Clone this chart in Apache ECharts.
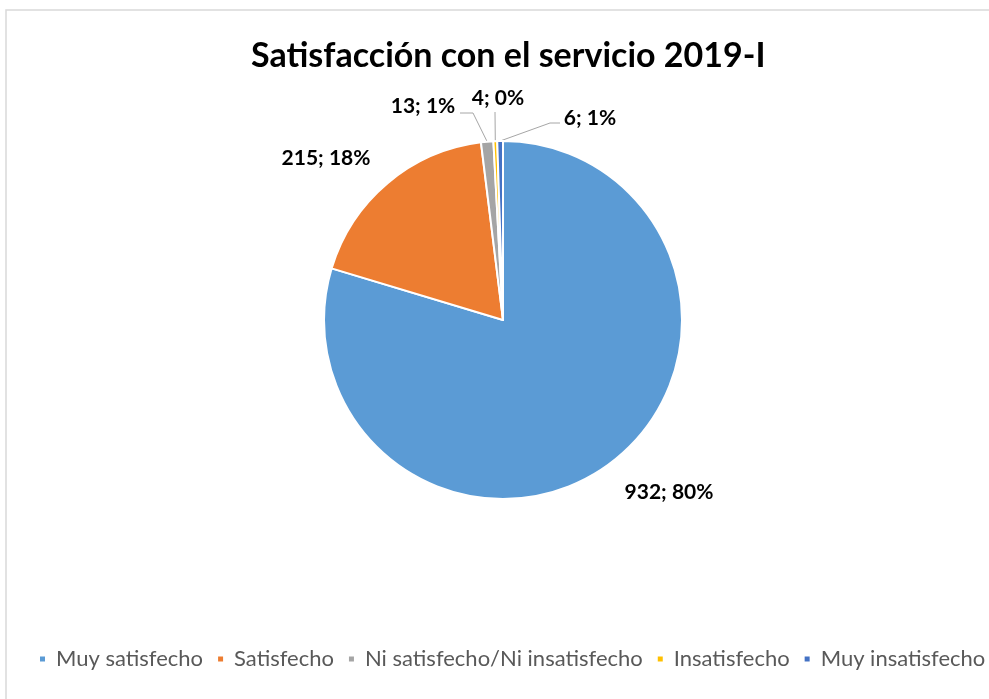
<!DOCTYPE html>
<html>
<head>
<meta charset="utf-8">
<script src="https://cdn.jsdelivr.net/npm/echarts@6/dist/echarts.min.js"></script>
<style>
  html, body { margin: 0; padding: 0; background: #fff; }
  #chart { width: 989px; height: 699px; }
</style>
</head>
<body>
<div id="chart"></div>
<script>
// Survey results: satisfaction with the service, period 2019-I
const categories = ['Muy satisfecho', 'Satisfecho', 'Ni satisfecho/Ni insatisfecho', 'Insatisfecho', 'Muy insatisfecho'];
const counts = [932, 215, 13, 4, 6];
const sliceColors = ['#5B9BD5', '#ED7D31', '#A5A5A5', '#FFC000', '#4472C4'];

const total = counts.reduce((a, b) => a + b, 0);

// Where each data label sits (label centre) and how its leader line bends
const labelSpots = [
  { x: 669, y: 492, line: null },
  { x: 326, y: 158, line: null },
  { x: 423, y: 106, line: [[473, 113], [460, 113]] },
  { x: 498, y: 98, line: [[495, 112]] },
  { x: 590, y: 118, line: [[550, 123], [560, 123]] }
];

const chart = echarts.init(document.getElementById('chart'), null, { renderer: 'canvas' });

const FONT = 'Lato, "Open Sans", sans-serif';

chart.setOption({
  backgroundColor: '#ffffff',
  animation: false,
  title: {
    text: 'Satisfacción con el servicio 2019-I',
    left: 246,
    top: 34,
    textStyle: { fontFamily: FONT, fontWeight: 'bold', fontSize: 34, color: '#000000' }
  },
  legend: {
    bottom: 29,
    left: 38,
    width: 1100,
    padding: 0,
    icon: 'rect',
    itemWidth: 7,
    itemHeight: 7,
    itemGap: 13,
    textStyle: { fontFamily: FONT, fontSize: 22, color: '#595959', padding: [0, 0, 0, 5] },
    data: categories
  },
  graphic: [{
    type: 'rect',
    shape: { x: 6, y: 10, width: 1000, height: 720 },
    style: { fill: 'none', stroke: '#d9d9d9', lineWidth: 1.5 },
    silent: true
  }],
  series: [{
    type: 'pie',
    center: [503, 320],
    radius: 179,
    startAngle: 90,
    clockwise: true,
    avoidLabelOverlap: false,
    itemStyle: { borderColor: '#ffffff', borderWidth: 2 },
    label: {
      show: true,
      position: 'outside',
      formatter: p => p.value + '; ' + Math.round(p.value / total * 100) + '%',
      fontFamily: FONT,
      fontWeight: 'bold',
      fontSize: 21,
      color: '#000000'
    },
    labelLine: { show: true, lineStyle: { color: '#a6a6a6', width: 1 } },
    labelLayout: function (params) {
      const spot = labelSpots[params.dataIndex];
      const out = { x: spot.x, y: spot.y, align: 'center', verticalAlign: 'middle' };
      if (spot.line && params.labelLinePoints) {
        out.labelLinePoints = [params.labelLinePoints[0]].concat(spot.line);
      } else {
        out.labelLinePoints = [[0, 0], [0, 0], [0, 0]];
      }
      return out;
    },
    data: categories.map((name, i) => ({
      name: name,
      value: counts[i],
      itemStyle: { color: sliceColors[i] },
      labelLine: { show: !!labelSpots[i].line }
    }))
  }]
});
</script>
</body>
</html>
